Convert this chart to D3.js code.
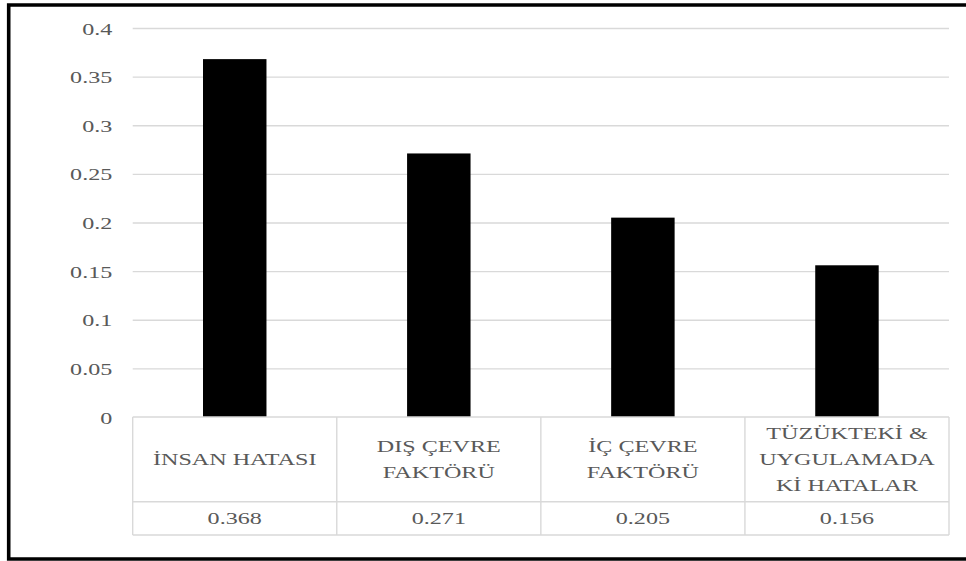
<!DOCTYPE html>
<html>
<head>
<meta charset="utf-8">
<script src="https://cdn.jsdelivr.net/npm/d3@7"></script>
<style>
  html, body { margin: 0; padding: 0; background: #fff; overflow: hidden; }
  svg { display: block; }
  svg text { font-family: 'Liberation Serif', 'Times New Roman', serif; fill: #595959; }
</style>
</head>
<body>
<svg id="chart" width="966" height="561"></svg>
<script>
// Factor weights (category labels split into display lines)
const categories = ["İNSAN HATASI", "DIŞ ÇEVRE FAKTÖRÜ", "İÇ ÇEVRE FAKTÖRÜ", "TÜZÜKTEKİ & UYGULAMADA Kİ HATALAR"];
const categoryLines = [
  ["İNSAN HATASI"],
  ["DIŞ ÇEVRE", "FAKTÖRÜ"],
  ["İÇ ÇEVRE", "FAKTÖRÜ"],
  ["TÜZÜKTEKİ &", "UYGULAMADA", "Kİ HATALAR"]
];
const values = [0.368, 0.271, 0.205, 0.156];
const tickValues = [0, 0.05, 0.1, 0.15, 0.2, 0.25, 0.3, 0.35, 0.4];
const tickLabels = ["0", "0.05", "0.1", "0.15", "0.2", "0.25", "0.3", "0.35", "0.4"];
const valueLabels = ["0.368", "0.271", "0.205", "0.156"];

const svg = d3.select("#chart");
const FONT = 17, SX = 1.42;          // serif text, widened horizontally
const FAMILY = "Liberation Serif";
const GRID = "#d9d9d9";

const plot = { left: 132.7, right: 949, top: 28, bottom: 417 };
const catRowBottom = 501.7, tableBottom = 535;

const y = d3.scaleLinear().domain([0, 0.4]).range([plot.bottom, plot.top]);
const x = d3.scaleBand().domain(categories).range([plot.left, plot.right]).paddingInner(0).paddingOuter(0);
const barW = x.bandwidth() * 0.311;

// Outer frame (open on the right side)
const frame = svg.append("g").attr("stroke", "#000").attr("stroke-width", 3.6).attr("fill", "none");
frame.append("path").attr("d", "M970,5 H8.7 V559 H970");

// Horizontal gridlines and y tick labels
const yAxis = d3.axisLeft(y).tickValues(tickValues).tickSize(0).tickFormat((d, i) => tickLabels[i]);
const gy = svg.append("g").attr("transform", `translate(${plot.left},0)`).call(yAxis)
  .attr("font-family", FAMILY);
gy.select(".domain").remove();
gy.selectAll(".tick line").remove();
gy.selectAll(".tick").filter(d => d > 0).append("line")
  .attr("x1", 0).attr("x2", plot.right - plot.left)
  .attr("stroke", GRID).attr("stroke-width", 1.4);
gy.selectAll(".tick text")
  .attr("x", null).attr("dy", null)
  .attr("font-family", FAMILY)
  .attr("font-size", FONT).attr("text-anchor", "end")
  .attr("fill", "#595959")
  .attr("transform", `translate(${112.3 - plot.left},6) scale(${SX},1)`);

// Bars
svg.append("g").selectAll("rect")
  .data(values)
  .join("rect")
  .attr("x", (d, i) => x(categories[i]) + x.bandwidth() / 2 - barW / 2)
  .attr("y", d => y(d))
  .attr("width", barW)
  .attr("height", d => y(0) - y(d))
  .attr("fill", "#000");

// Data table under the axis
const table = svg.append("g").attr("stroke", GRID).attr("stroke-width", 1.4).attr("fill", "none");
[plot.bottom, catRowBottom, tableBottom].forEach(yy => {
  table.append("line").attr("x1", plot.left).attr("x2", plot.right).attr("y1", yy).attr("y2", yy);
});
const cols = categories.map(c => x(c)).concat([plot.right]);
cols.forEach(xx => {
  table.append("line").attr("x1", xx).attr("x2", xx).attr("y1", plot.bottom).attr("y2", tableBottom);
});

// Category labels
const lineGap = 26;
const catMid = (plot.bottom + catRowBottom) / 2;
const catG = svg.append("g").attr("font-family", FAMILY);
categoryLines.forEach((lines, i) => {
  const cx = x(categories[i]) + x.bandwidth() / 2;
  lines.forEach((t, j) => {
    const cy = catMid + (j - (lines.length - 1) / 2) * lineGap + 6;
    catG.append("text")
      .attr("transform", `translate(${cx},${cy}) scale(${SX},1)`)
      .attr("text-anchor", "middle")
      .attr("font-size", FONT)
      .text(t);
  });
});

// Value row
const valMid = (catRowBottom + tableBottom) / 2 + 6;
svg.append("g").attr("font-family", FAMILY).selectAll("text")
  .data(valueLabels)
  .join("text")
  .attr("transform", (d, i) => `translate(${x(categories[i]) + x.bandwidth() / 2},${valMid}) scale(${SX},1)`)
  .attr("text-anchor", "middle")
  .attr("font-size", FONT)
  .text(d => d);
</script>
</body>
</html>
